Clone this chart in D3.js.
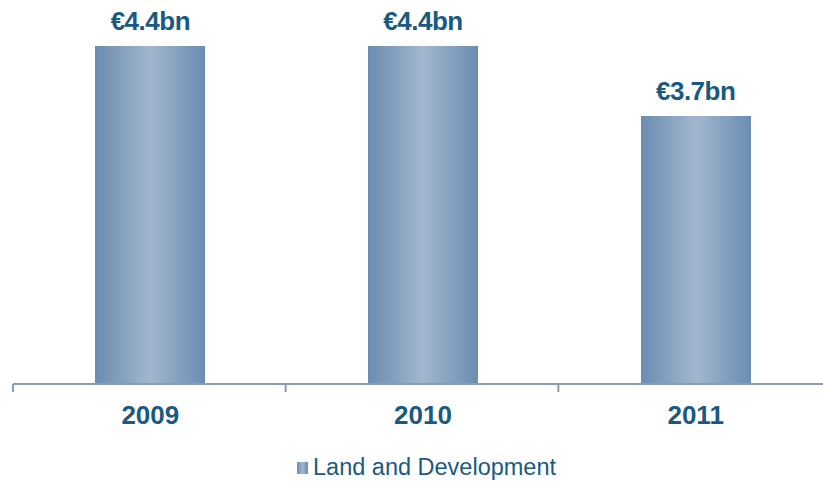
<!DOCTYPE html>
<html>
<head>
<meta charset="utf-8">
<script src="https://cdn.jsdelivr.net/npm/d3@7"></script>
<style>
  html, body { margin: 0; padding: 0; background: #fff; }
  svg { display: block; font-family: Arial, "Liberation Sans", sans-serif; }
</style>
</head>
<body>
<script>
// Land and Development loan book, by year
const years = ["2009", "2010", "2011"];
const values = [4.4, 4.4, 3.7];
const valueLabels = ["€4.4bn", "€4.4bn", "€3.7bn"];
const seriesName = "Land and Development";

const W = 823, H = 481;
const baseY = 383, topY = 46;
const axisLeft = 13, axisRight = 831;

const svg = d3.select("body").append("svg")
  .attr("width", W).attr("height", H);

// horizontal gradient: dark edges, pale middle
const defs = svg.append("defs");
const grad = defs.append("linearGradient")
  .attr("id", "barGrad").attr("x1", "0%").attr("x2", "100%").attr("y1", "0%").attr("y2", "0%");
grad.append("stop").attr("offset", "0%").attr("stop-color", "#6b8cb2");
grad.append("stop").attr("offset", "50%").attr("stop-color", "#a1b7cd");
grad.append("stop").attr("offset", "100%").attr("stop-color", "#6b8cb2");

const x = d3.scaleBand().domain(years).range([axisLeft, axisRight]);
// value axis is not drawn; domain floor keeps bar heights in proportion to the layout
const y = d3.scaleLinear().domain([1.03, 4.4]).range([baseY, topY]);

const barW = 110;
const barShift = 1;

svg.append("g").selectAll("rect")
  .data(years)
  .join("rect")
  .attr("x", (d) => Math.round(x(d) + x.bandwidth() / 2 - barW / 2) + barShift)
  .attr("y", (d, i) => y(values[i]))
  .attr("width", barW)
  .attr("height", (d, i) => baseY - y(values[i]))
  .attr("fill", "url(#barGrad)");

// category axis with ticks between categories
const axis = d3.axisBottom(x).tickSize(0).tickFormat("");
const ag = svg.append("g").attr("transform", `translate(0,${baseY + 1})`).call(axis);
ag.select(".domain").attr("stroke", "#8c9bb0").attr("stroke-width", 2).attr("d", `M${axisLeft},0H${axisRight}`);
const bounds = years.map((d) => x(d)).concat([axisRight]);
ag.selectAll(".sep").data(bounds).join("line")
  .attr("class", "sep")
  .attr("x1", (d) => d).attr("x2", (d) => d)
  .attr("y1", 0).attr("y2", 8)
  .attr("stroke", "#8c9bb0").attr("stroke-width", 2);

// year labels
svg.append("g").selectAll("text")
  .data(years)
  .join("text")
  .attr("x", (d) => x(d) + x.bandwidth() / 2 + 1)
  .attr("y", 424)
  .attr("text-anchor", "middle")
  .attr("font-size", 26)
  .attr("font-weight", "bold")
  .attr("fill", "#1a5a80")
  .text((d) => d);

// value labels above bars
svg.append("g").selectAll("text")
  .data(years)
  .join("text")
  .attr("x", (d) => x(d) + x.bandwidth() / 2 + 1)
  .attr("y", (d, i) => y(values[i]) - 16)
  .attr("text-anchor", "middle")
  .attr("font-size", 26)
  .attr("font-weight", "bold")
  .attr("letter-spacing", -0.5)
  .attr("fill", "#1a5a80")
  .text((d, i) => valueLabels[i]);

// legend
const lg = svg.append("g").attr("transform", "translate(297,462)");
lg.append("rect").attr("x", 0).attr("y", 0).attr("width", 11).attr("height", 12)
  .attr("fill", "url(#barGrad)");
lg.append("text").attr("x", 16).attr("y", 13)
  .attr("font-size", 23.5)
  .attr("fill", "#1a5a80")
  .text(seriesName);
</script>
</body>
</html>
